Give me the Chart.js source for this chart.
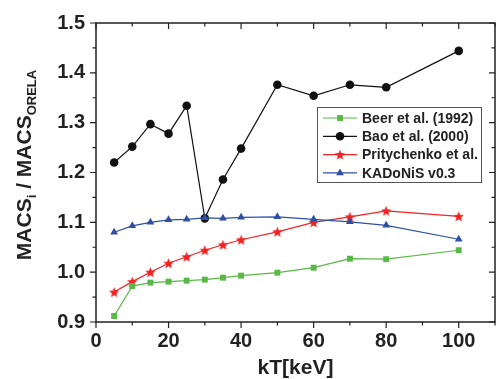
<!DOCTYPE html>
<html>
<head>
<meta charset="utf-8">
<script src="https://cdn.jsdelivr.net/npm/chart.js@4"></script>
<style>
  body { margin: 0; background: #fff; }
  canvas { display: block; }
</style>
</head>
<body>
<canvas id="myChart" width="496" height="379"></canvas>
<script>
// values
const kT = [5, 10, 15, 20, 25, 30, 35, 40, 50, 60, 70, 80, 100];
const beer = [0.912, 0.972, 0.979, 0.981, 0.983, 0.985, 0.989, 0.993, 0.999, 1.009, 1.027, 1.026, 1.044];
const bao = [1.220, 1.252, 1.297, 1.278, 1.334, 1.108, 1.186, 1.248, 1.376, 1.354, 1.376, 1.371, 1.444];
const prity = [0.960, 0.981, 1.000, 1.018, 1.031, 1.044, 1.055, 1.065, 1.081, 1.100, 1.111, 1.123, 1.112];
const kadonis = [1.080, 1.093, 1.100, 1.105, 1.106, 1.109, 1.108, 1.110, 1.111, 1.106, 1.101, 1.094, 1.066];
const seriesNames = ['Beer et al. (1992)', 'Bao et al. (2000)', 'Pritychenko et al.', 'KADoNiS v0.3'];
const xTicks = [0, 20, 40, 60, 80, 100];
const yTicks = [0.9, 1.0, 1.1, 1.2, 1.3, 1.4, 1.5];

const GREEN = '#5ab946';
const RED = '#ee2424';
const BLUE = '#2f4fa3';

// filled 5 point star for the Pritychenko series
function makeStar(r, color) {
    const c = document.createElement('canvas');
    c.width = c.height = Math.ceil(r * 2 + 2);
    const g = c.getContext('2d');
    const cx = c.width / 2, cy = c.height / 2 + 0.5;
    g.beginPath();
    for (let i = 0; i < 10; i++) {
        const rr = i % 2 === 0 ? r : r * 0.45;
        const a = -Math.PI / 2 + i * Math.PI / 5;
        const px = cx + rr * Math.cos(a), py = cy + rr * Math.sin(a);
        if (i === 0) g.moveTo(px, py); else g.lineTo(px, py);
    }
    g.closePath();
    g.fillStyle = color;
    g.fill();
    return c;
}
const star = makeStar(5.5, RED);

function pts(arr) {
    return kT.map((x, i) => ({ x: x, y: arr[i] }));
}

const FONT = '"Liberation Sans", Arial, sans-serif';

// frame, ticks, axis title and legend
const decor = {
    id: 'decor',
    afterDraw(chart) {
        const ctx = chart.ctx;
        const a = chart.chartArea;
        const xs = chart.scales.x, ys = chart.scales.y;
        ctx.save();
        ctx.strokeStyle = '#222';
        ctx.lineWidth = 1.5;
        ctx.strokeRect(a.left, a.top, a.right - a.left, a.bottom - a.top);

        ctx.lineWidth = 1.2;
        ctx.beginPath();
        for (let v = 0; v <= 110; v += 10) {
            const p = xs.getPixelForValue(v);
            const len = v % 20 === 0 ? 6 : 3.5;
            ctx.moveTo(p, a.bottom); ctx.lineTo(p, a.bottom + len);
            ctx.moveTo(p, a.top); ctx.lineTo(p, a.top + len);
        }
        for (let k = 18; k <= 30; k++) {
            const v = k / 20;
            const p = ys.getPixelForValue(v);
            const len = k % 2 === 0 ? 6 : 3.5;
            ctx.moveTo(a.left, p); ctx.lineTo(a.left - len, p);
            ctx.moveTo(a.right, p); ctx.lineTo(a.right - len, p);
        }
        ctx.stroke();

        // y title with subscripts
        ctx.fillStyle = '#222';
        ctx.translate(25, 165);
        ctx.rotate(-Math.PI / 2);
        ctx.textBaseline = 'middle';
        const big = 'bold 21px ' + FONT, small = 'bold 13px ' + FONT;
        const parts = [['MACS', big, 0], ['i', small, 7], [' / MACS', big, 0], ['ORELA', small, 7]];
        let w = 0;
        parts.forEach(p => { ctx.font = p[1]; w += ctx.measureText(p[0]).width; });
        let x = -w / 2;
        parts.forEach(p => {
            ctx.font = p[1];
            ctx.textAlign = 'left';
            ctx.fillText(p[0], x, p[2]);
            x += ctx.measureText(p[0]).width;
        });
        ctx.restore();

        // legend
        ctx.save();
        const lx = 317, ly = 107, lw = 164, lh = 75;
        ctx.fillStyle = '#fff';
        ctx.fillRect(lx, ly, lw, lh);
        ctx.strokeStyle = '#555';
        ctx.lineWidth = 1;
        ctx.strokeRect(lx + 0.5, ly + 0.5, lw, lh);
        ctx.font = 'bold 14px ' + FONT;
        ctx.textBaseline = 'middle';
        chart.data.datasets.forEach(ds => {
            const i = seriesNames.indexOf(ds.label);
            const cy = ly + 11 + i * 18.3;
            ctx.strokeStyle = ds.borderColor;
            ctx.lineWidth = 1.2;
            ctx.beginPath();
            ctx.moveTo(323, cy); ctx.lineTo(357, cy);
            ctx.stroke();
            ctx.fillStyle = ds.backgroundColor;
            Chart.helpers.drawPoint(ctx, {
                pointStyle: ds.pointStyle, radius: ds.pointRadius, rotation: 0,
                borderWidth: 0
            }, 340, cy);
            ctx.fillStyle = '#222';
            ctx.fillText(ds.label, 362, cy + 1);
        });
        ctx.restore();
    }
};

new Chart(document.getElementById('myChart'), {
    type: 'line',
    data: {
        datasets: [
            { label: seriesNames[0], data: pts(beer), order: 0, borderColor: GREEN, backgroundColor: GREEN, pointStyle: 'rect', pointRadius: 4.2 },
            { label: seriesNames[1], data: pts(bao), order: 2, borderColor: '#111', backgroundColor: '#111', pointStyle: 'circle', pointRadius: 4.3 },
            { label: seriesNames[2], data: pts(prity), order: 3, borderColor: RED, backgroundColor: RED, pointStyle: star, pointRadius: 5 },
            { label: seriesNames[3], data: pts(kadonis), order: 1, borderColor: BLUE, backgroundColor: BLUE, pointStyle: 'triangle', pointRadius: 4.5 }
        ]
    },
    options: {
        responsive: false,
        animation: false,
        layout: { autoPadding: false, padding: { left: 0, right: 1, top: 21, bottom: 0 } },
        elements: {
            line: { borderWidth: 1.2, tension: 0 },
            point: { borderWidth: 0, hoverRadius: 4 }
        },
        plugins: { legend: { display: false }, tooltip: { enabled: false } },
        scales: {
            x: {
                type: 'linear', min: 0, max: 110,
                afterBuildTicks: s => { s.ticks = xTicks.map(v => ({ value: v })); },
                grid: { display: false, drawTicks: false },
                border: { display: false },
                ticks: { color: '#222', padding: 7, font: { family: FONT, size: 20, weight: 'bold' } },
                title: { display: true, text: 'kT[keV]', color: '#222', padding: { top: 0, bottom: -2 },
                    font: { family: FONT, size: 21, weight: 'bold' } },
                afterFit: s => { s.height = 57; }
            },
            y: {
                min: 0.9, max: 1.5,
                afterBuildTicks: s => { s.ticks = yTicks.map(v => ({ value: v })); },
                grid: { display: false, drawTicks: false },
                border: { display: false },
                ticks: { color: '#222', padding: 11, font: { family: FONT, size: 20, weight: 'bold' },
                    callback: v => v.toFixed(1) },
                afterFit: s => { s.width = 96; }
            }
        }
    },
    plugins: [decor]
});
</script>
</body>
</html>
